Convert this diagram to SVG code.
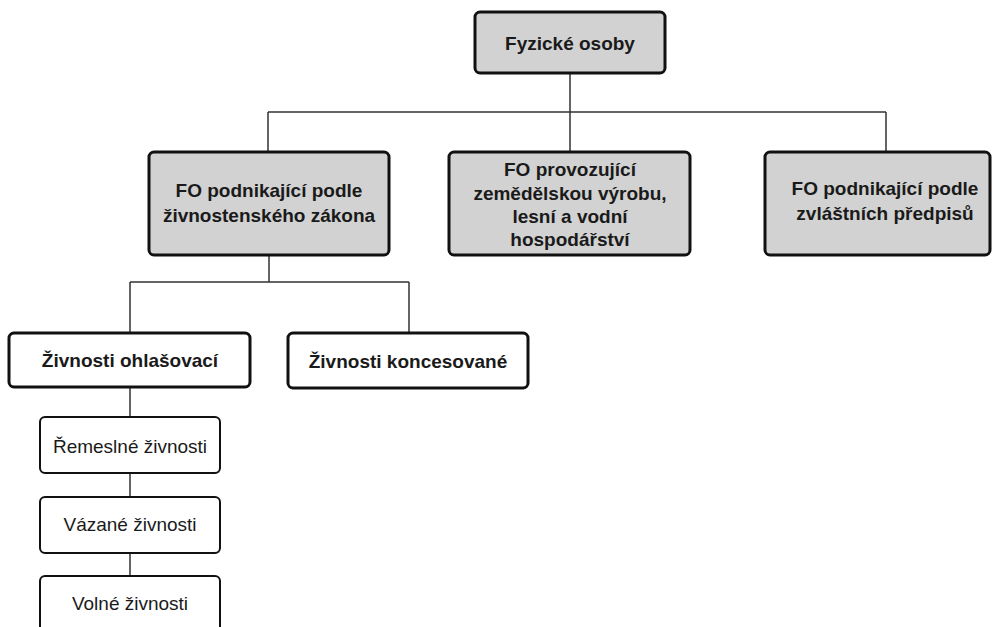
<svg xmlns="http://www.w3.org/2000/svg" width="995" height="627" viewBox="0 0 995 627">
<style>
.bx{stroke:#111;stroke-width:3;}
.g{fill:#d2d2d2;}
.w{fill:#fff;}
.tb{font-family:"Liberation Sans",Arial,sans-serif;font-weight:bold;font-size:19px;fill:#1a1a1a;text-anchor:middle;}
.tr{font-family:"Liberation Sans",Arial,sans-serif;font-size:19px;fill:#1a1a1a;text-anchor:middle;}
.ln{stroke:#333;stroke-width:1.5;fill:none;}
</style>
<rect width="995" height="627" fill="#fff"/>
<g id="connectors">
<path class="ln" d="M570 73V112M268 112H886M268 112V152M570 112V152M886 112V152"/>
<path class="ln" d="M269 255V282M130 282H409M130 282V333M409 282V333"/>
<path class="ln" d="M130 387V417M130 473V497M130 553V576"/>
</g>
<g id="n1"><rect class="bx g" x="475" y="12" width="190" height="61" rx="5"/><text class="tb" x="570" y="50">Fyzické osoby</text></g>
<g id="n2"><rect class="bx g" x="149" y="152" width="240" height="103" rx="5"/><text class="tb" x="269" y="197">FO podnikající podle</text><text class="tb" x="269" y="222">živnostenského zákona</text></g>
<g id="n3"><rect class="bx g" x="449" y="152" width="241" height="103" rx="5"/><text class="tb" x="570" y="176">FO provozující</text><text class="tb" x="570" y="200">zemědělskou výrobu,</text><text class="tb" x="570" y="223">lesní a vodní</text><text class="tb" x="570" y="246">hospodářství</text></g>
<g id="n4"><rect class="bx g" x="765" y="152" width="225" height="103" rx="5"/><text class="tb" x="885" y="195">FO podnikající podle</text><text class="tb" x="885" y="220">zvláštních předpisů</text></g>
<g id="n5"><rect class="bx w" x="9" y="333" width="241" height="54" rx="5"/><text class="tb" x="130" y="367">Živnosti ohlašovací</text></g>
<g id="n6"><rect class="bx w" x="288" y="333" width="240" height="55" rx="5"/><text class="tb" x="408" y="368">Živnosti koncesované</text></g>
<g id="n7"><rect class="bx w" x="40" y="417" width="180" height="56" rx="5" style="stroke-width:2"/><text class="tr" x="130" y="453">Řemeslné živnosti</text></g>
<g id="n8"><rect class="bx w" x="40" y="497" width="180" height="56" rx="5" style="stroke-width:2"/><text class="tr" x="130" y="531">Vázané živnosti</text></g>
<g id="n9"><rect class="bx w" x="40" y="576" width="180" height="60" rx="5" style="stroke-width:2"/><text class="tr" x="130" y="610">Volné živnosti</text></g>
</svg>
